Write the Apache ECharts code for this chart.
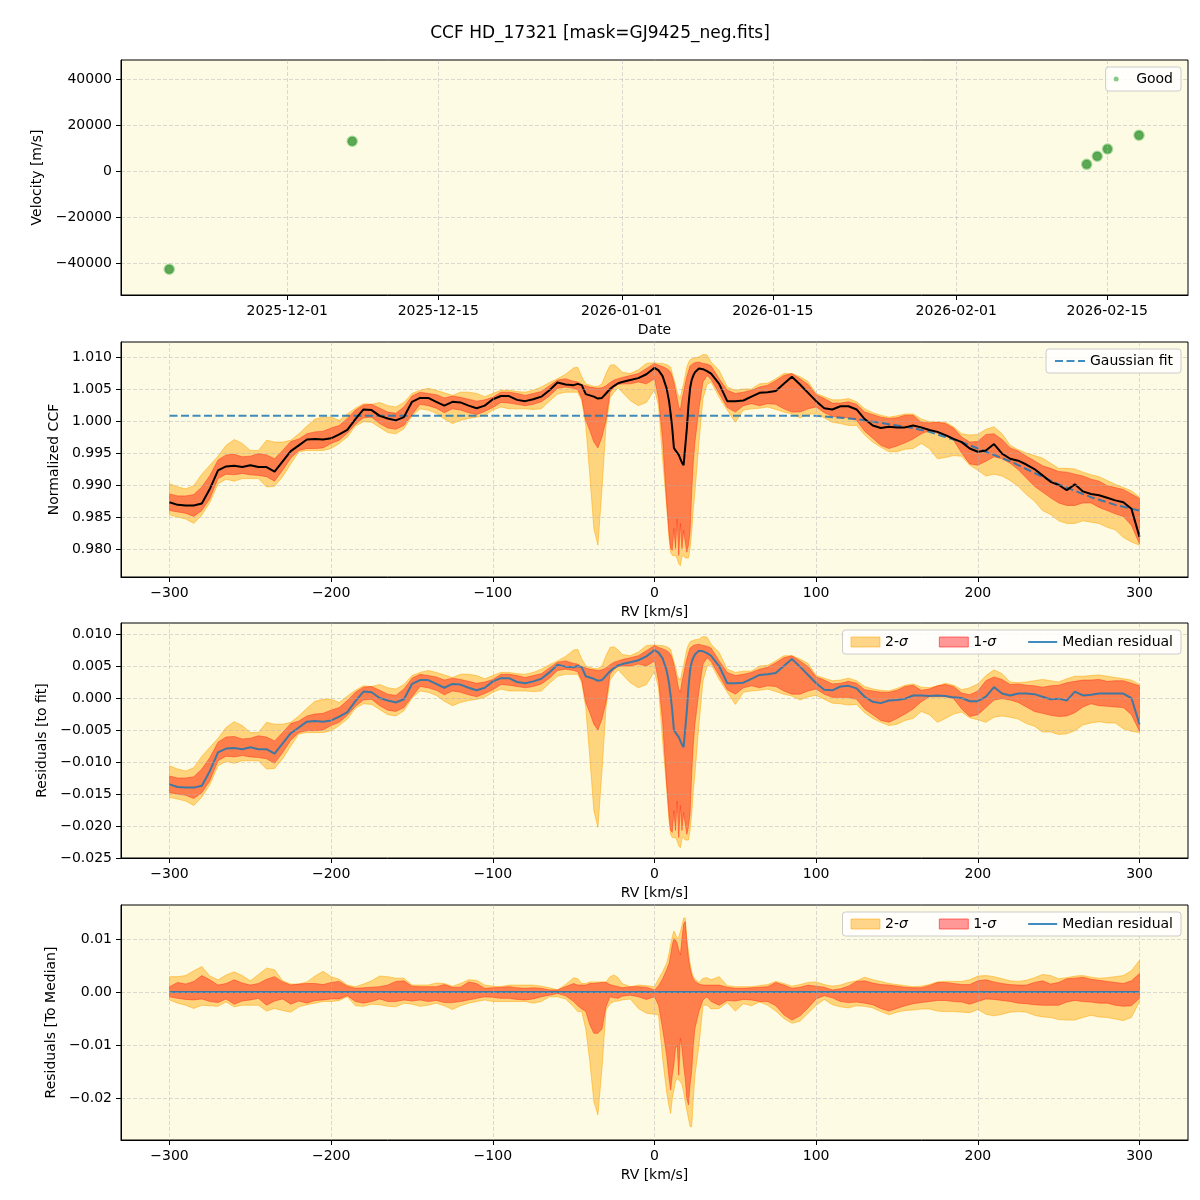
<!DOCTYPE html>
<html>
<head>
<meta charset="utf-8">
<title>CCF HD_17321</title>
<script src="https://cdn.jsdelivr.net/npm/echarts@6.0.0/dist/echarts.min.js"></script>
<style>
  html, body { margin: 0; padding: 0; background: #fff; }
  #ccfChart { width: 1200px; height: 1200px; }
</style>
</head>
<body>
<div id="ccfChart"></div>
<script>
// ---- velocity time series (top panel) ----
const obsTimes = ['2025-11-20T01:30', '2025-12-07T00:30', '2026-02-13T02:10',
  '2026-02-14T01:40', '2026-02-15T00:30', '2026-02-17T22:30'];
const obsVelocity = [-42400, 13000, 3000, 6500, 9650, 15600];

// ---- tick labels ----
const dateTicks = ['2025-12-01', '2025-12-15', '2026-01-01', '2026-01-15', '2026-02-01', '2026-02-15'];
const velocityTicks = [-40000, -20000, 0, 20000, 40000];
const rvTicks = [-300, -200, -100, 0, 100, 200, 300];
const ccfTicks = [0.980, 0.985, 0.990, 0.995, 1.000, 1.005, 1.010];
const residTicks = [-0.025, -0.020, -0.015, -0.010, -0.005, 0, 0.005, 0.010];
const medianTicks = [-0.02, -0.01, 0, 0.01];

// ---- CCF grid [km/s] ----
const rv = [
  -300, -295, -290, -285, -280, -275, -270, -265, -260, -255, -250, -245, -240, -235, -230, -225, -220, -215, -210, -205,
  -200, -195, -190, -185, -180, -175, -170, -165, -160, -155, -150, -145, -140, -135, -130, -125, -120, -115, -110,
  -105, -100, -95, -90, -85, -80, -75, -70, -65, -60, -55, -50,
  -47.5, -45, -42.5, -40, -37.5, -35, -32.5, -30, -27.5, -25, -22.5, -20,
  -15, -10, -5, 0, 2.5, 5, 7.5,
  9, 10, 11, 12, 13, 14, 15, 16, 17, 18, 19, 20, 21, 22, 23, 24, 25,
  27.5, 30, 32.5, 35,
  40, 45, 50, 55, 60, 65, 70, 75, 80, 85, 90, 95, 100,
  105, 110, 115, 120, 125, 130, 135, 140, 145, 150, 155, 160, 165, 170, 175, 180, 185, 190, 195, 200,
  205, 210, 215, 220, 225, 230, 235, 240, 245, 250, 255, 260, 265, 270, 275, 280, 285, 290, 295, 300
];

// normalized CCF: median and percentile bands
const ccfMedian = [
  0.9873, 0.9869, 0.9868, 0.9868, 0.9871, 0.9894, 0.9923, 0.9929, 0.9930, 0.9928, 0.9931, 0.9928, 0.9928, 0.9921, 0.9937, 0.9953, 0.9962, 0.9971, 0.9972, 0.9971,
  0.9973, 0.9979, 0.9986, 1.0003, 1.0018, 1.0017, 1.0008, 1.0004, 1.0001, 1.0006, 1.0030, 1.0036, 1.0036, 1.0030, 1.0024, 1.0030, 1.0029, 1.0024, 1.0020,
  1.0024, 1.0034, 1.0039, 1.0039, 1.0033, 1.0031, 1.0034, 1.0038, 1.0048, 1.0060, 1.0057, 1.0056,
  1.0058, 1.0056, 1.0042, 1.0040, 1.0038, 1.0035, 1.0036, 1.0043, 1.0050, 1.0055, 1.0059, 1.0061,
  1.0064, 1.0067, 1.0073, 1.0083, 1.0079, 1.0070, 1.0051,
  1.0031, 1.0011, 0.9988, 0.9958, 0.9954, 0.9952, 0.9947, 0.9941, 0.9935, 0.9931, 0.9932, 0.9988, 1.0024, 1.0051, 1.0064, 1.0071, 1.0076,
  1.0082, 1.0081, 1.0078, 1.0074,
  1.0058, 1.0031, 1.0031, 1.0032, 1.0038, 1.0044, 1.0045, 1.0047, 1.0058, 1.0069, 1.0057, 1.0044, 1.0031,
  1.0020, 1.0018, 1.0023, 1.0023, 1.0018, 1.0003, 0.9993, 0.9989, 0.9991, 0.9990, 0.9990, 0.9993, 0.9990, 0.9986, 0.9983, 0.9978, 0.9972, 0.9967, 0.9957, 0.9952,
  0.9954, 0.9964, 0.9949, 0.9941, 0.9938, 0.9932, 0.9925, 0.9915, 0.9905, 0.9900, 0.9892, 0.9901, 0.9890, 0.9886, 0.9884, 0.9880, 0.9876, 0.9873, 0.9863, 0.9819
];
const ccf1Hi = [
  0.9886, 0.9883, 0.9883, 0.9885, 0.9897, 0.9915, 0.9939, 0.9947, 0.9948, 0.9944, 0.9945, 0.9949, 0.9947, 0.9941, 0.9954, 0.9968, 0.9972, 0.9980, 0.9983, 0.9984,
  0.9989, 0.9993, 1.0004, 1.0017, 1.0025, 1.0026, 1.0020, 1.0014, 1.0012, 1.0022, 1.0039, 1.0045, 1.0043, 1.0041, 1.0036, 1.0039, 1.0037, 1.0034, 1.0031,
  1.0033, 1.0037, 1.0045, 1.0045, 1.0043, 1.0040, 1.0043, 1.0046, 1.0055, 1.0064, 1.0066, 1.0062,
  1.0061, 1.0057, 1.0055, 1.0053, 1.0052, 1.0051, 1.0052, 1.0055, 1.0060, 1.0064, 1.0066, 1.0068,
  1.0071, 1.0074, 1.0082, 1.0090, 1.0087, 1.0085, 1.0082,
  1.0079, 1.0076, 1.0069, 1.0060, 1.0048, 1.0035, 1.0022, 1.0017, 1.0034, 1.0045, 1.0058, 1.0069, 1.0078, 1.0086, 1.0088, 1.0090, 1.0091,
  1.0092, 1.0090, 1.0089, 1.0086,
  1.0066, 1.0048, 1.0043, 1.0045, 1.0048, 1.0053, 1.0056, 1.0063, 1.0071, 1.0074, 1.0066, 1.0057, 1.0041,
  1.0035, 1.0028, 1.0028, 1.0030, 1.0026, 1.0014, 1.0010, 1.0006, 1.0004, 1.0005, 1.0009, 1.0009, 0.9998, 0.9997, 0.9998, 0.9996, 0.9989, 0.9975, 0.9967, 0.9968,
  0.9979, 0.9980, 0.9971, 0.9958, 0.9953, 0.9945, 0.9938, 0.9930, 0.9926, 0.9921, 0.9920, 0.9917, 0.9914, 0.9909, 0.9906, 0.9899, 0.9896, 0.9893, 0.9886, 0.9879
];
const ccf1Lo = [
  0.9860, 0.9858, 0.9856, 0.9851, 0.9860, 0.9879, 0.9910, 0.9917, 0.9916, 0.9918, 0.9916, 0.9915, 0.9913, 0.9906, 0.9923, 0.9942, 0.9954, 0.9957, 0.9957, 0.9958,
  0.9965, 0.9970, 0.9981, 0.9995, 1.0005, 1.0006, 0.9996, 0.9989, 0.9987, 0.9993, 1.0010, 1.0026, 1.0024, 1.0020, 1.0013, 1.0019, 1.0017, 1.0013, 1.0010,
  1.0015, 1.0021, 1.0029, 1.0028, 1.0026, 1.0024, 1.0026, 1.0030, 1.0039, 1.0051, 1.0053, 1.0051,
  1.0049, 1.0035, 1.0001, 0.9985, 0.9967, 0.9958, 0.9975, 1.0001, 1.0045, 1.0053, 1.0057, 1.0058,
  1.0058, 1.0061, 1.0058, 1.0066, 1.0035, 0.9972, 0.9873,
  0.9824, 0.9801, 0.9798, 0.9832, 0.9801, 0.9847, 0.9790, 0.9840, 0.9801, 0.9829, 0.9811, 0.9795, 0.9806, 0.9827, 0.9889, 0.9936, 0.9967,
  1.0019, 1.0061, 1.0071, 1.0065,
  1.0043, 1.0021, 1.0014, 1.0024, 1.0027, 1.0024, 1.0027, 1.0026, 1.0019, 1.0014, 1.0014, 1.0019, 1.0022,
  1.0013, 1.0007, 1.0006, 1.0005, 1.0001, 0.9984, 0.9973, 0.9962, 0.9957, 0.9961, 0.9966, 0.9972, 0.9980, 0.9985, 0.9981, 0.9977, 0.9970, 0.9950, 0.9933, 0.9931,
  0.9937, 0.9944, 0.9941, 0.9934, 0.9924, 0.9911, 0.9898, 0.9889, 0.9880, 0.9872, 0.9868, 0.9868, 0.9872, 0.9872, 0.9865, 0.9860, 0.9855, 0.9851, 0.9837, 0.9808
];
const ccf2Hi = [
  0.9902, 0.9897, 0.9894, 0.9899, 0.9917, 0.9931, 0.9945, 0.9962, 0.9971, 0.9965, 0.9954, 0.9954, 0.9970, 0.9967, 0.9967, 0.9970, 0.9980, 0.9992, 1.0003, 1.0006,
  1.0006, 1.0001, 1.0011, 1.0020, 1.0027, 1.0026, 1.0029, 1.0024, 1.0022, 1.0029, 1.0043, 1.0048, 1.0051, 1.0048, 1.0044, 1.0040, 1.0045, 1.0045, 1.0043,
  1.0038, 1.0043, 1.0048, 1.0048, 1.0046, 1.0045, 1.0048, 1.0053, 1.0060, 1.0066, 1.0073, 1.0083,
  1.0084, 1.0069, 1.0058, 1.0056, 1.0054, 1.0054, 1.0058, 1.0074, 1.0087, 1.0088, 1.0083, 1.0076,
  1.0074, 1.0080, 1.0090, 1.0091, 1.0090, 1.0090, 1.0088,
  1.0086, 1.0084, 1.0074, 1.0065, 1.0056, 1.0045, 1.0038, 1.0036, 1.0048, 1.0058, 1.0071, 1.0084, 1.0091, 1.0096, 1.0097, 1.0098, 1.0099,
  1.0100, 1.0104, 1.0103, 1.0092,
  1.0079, 1.0053, 1.0048, 1.0050, 1.0050, 1.0058, 1.0059, 1.0066, 1.0074, 1.0074, 1.0069, 1.0062, 1.0043,
  1.0038, 1.0033, 1.0033, 1.0035, 1.0030, 1.0019, 1.0013, 1.0009, 1.0006, 1.0008, 1.0011, 1.0011, 1.0003, 0.9999, 0.9998, 0.9998, 0.9991, 0.9980, 0.9978, 0.9979,
  0.9987, 0.9991, 0.9980, 0.9962, 0.9955, 0.9950, 0.9946, 0.9942, 0.9934, 0.9926, 0.9926, 0.9925, 0.9920, 0.9916, 0.9913, 0.9907, 0.9901, 0.9896, 0.9891, 0.9881
];
const ccf2Lo = [
  0.9853, 0.9850, 0.9847, 0.9840, 0.9853, 0.9873, 0.9902, 0.9909, 0.9906, 0.9910, 0.9910, 0.9910, 0.9897, 0.9898, 0.9913, 0.9933, 0.9952, 0.9954, 0.9954, 0.9954,
  0.9957, 0.9965, 0.9975, 0.9992, 0.9999, 0.9998, 0.9990, 0.9982, 0.9980, 0.9988, 1.0008, 1.0019, 1.0017, 1.0012, 1.0003, 0.9996, 1.0001, 1.0004, 1.0006,
  1.0009, 1.0017, 1.0022, 1.0019, 1.0019, 1.0019, 1.0018, 1.0019, 1.0031, 1.0042, 1.0045, 1.0045,
  1.0045, 1.0032, 0.9993, 0.9915, 0.9832, 0.9806, 0.9894, 0.9993, 1.0036, 1.0045, 1.0052, 1.0045,
  1.0032, 1.0024, 1.0029, 1.0049, 1.0024, 0.9941, 0.9868,
  0.9816, 0.9795, 0.9790, 0.9790, 0.9790, 0.9785, 0.9777, 0.9774, 0.9788, 0.9790, 0.9786, 0.9786, 0.9786, 0.9801, 0.9827, 0.9863, 0.9889,
  0.9967, 1.0035, 1.0057, 1.0061,
  1.0037, 1.0017, 0.9998, 1.0017, 1.0019, 1.0020, 1.0022, 1.0018, 1.0014, 1.0011, 1.0005, 1.0010, 1.0012,
  1.0005, 0.9998, 0.9996, 0.9993, 0.9993, 0.9978, 0.9967, 0.9959, 0.9952, 0.9952, 0.9956, 0.9957, 0.9965, 0.9957, 0.9941, 0.9943, 0.9946, 0.9945, 0.9931, 0.9923,
  0.9914, 0.9917, 0.9914, 0.9907, 0.9898, 0.9885, 0.9875, 0.9860, 0.9854, 0.9844, 0.9840, 0.9840, 0.9844, 0.9842, 0.9840, 0.9834, 0.9830, 0.9818, 0.9811, 0.9806
];
const gaussFit = [
  1.0008, 1.0008, 1.0008, 1.0008, 1.0008, 1.0008, 1.0008, 1.0008, 1.0008, 1.0008, 1.0008, 1.0008, 1.0008, 1.0008, 1.0008, 1.0008, 1.0008, 1.0008, 1.0008, 1.0008,
  1.0008, 1.0008, 1.0008, 1.0008, 1.0008, 1.0008, 1.0008, 1.0008, 1.0008, 1.0008, 1.0008, 1.0008, 1.0008, 1.0008, 1.0008, 1.0008, 1.0008, 1.0008, 1.0008,
  1.0008, 1.0008, 1.0008, 1.0008, 1.0008, 1.0008, 1.0008, 1.0008, 1.0008, 1.0008, 1.0008, 1.0008,
  1.0008, 1.0008, 1.0008, 1.0008, 1.0008, 1.0008, 1.0008, 1.0008, 1.0008, 1.0008, 1.0008, 1.0008,
  1.0008, 1.0008, 1.0008, 1.0008, 1.0008, 1.0008, 1.0008,
  1.0008, 1.0008, 1.0008, 1.0008, 1.0008, 1.0008, 1.0008, 1.0008, 1.0008, 1.0008, 1.0008, 1.0008, 1.0008, 1.0008, 1.0008, 1.0008, 1.0008,
  1.0008, 1.0008, 1.0008, 1.0008,
  1.0008, 1.0008, 1.0008, 1.0008, 1.0008, 1.0008, 1.0008, 1.0008, 1.0008, 1.0008, 1.0008, 1.0008, 1.0008,
  1.0007, 1.0006, 1.0005, 1.0004, 1.0003, 1.0001, 0.9999, 0.9997, 0.9995, 0.9993, 0.9991, 0.9989, 0.9986, 0.9983, 0.9979, 0.9975, 0.9971, 0.9967, 0.9962, 0.9957,
  0.9952, 0.9947, 0.9942, 0.9937, 0.9931, 0.9925, 0.9919, 0.9913, 0.9907, 0.9901, 0.9896, 0.9891, 0.9886, 0.9881, 0.9877, 0.9873, 0.9869, 0.9866, 0.9863, 0.9860
];

// residuals to the median CCF: percentile bands
const med1Hi = [
  0.0010, 0.0018, 0.0015, 0.0020, 0.0031, 0.0023, 0.0013, 0.0016, 0.0023, 0.0017, 0.0013, 0.0016, 0.0024, 0.0029, 0.0019, 0.0013, 0.0015, 0.0016, 0.0016, 0.0014,
  0.0018, 0.0020, 0.0011, 0.0007, 0.0008, 0.0009, 0.0010, 0.0013, 0.0020, 0.0021, 0.0011, 0.0010, 0.0010, 0.0010, 0.0014, 0.0009, 0.0009, 0.0019, 0.0016,
  0.0007, 0.0008, 0.0009, 0.0010, 0.0008, 0.0007, 0.0008, 0.0007, 0.0004, 0.0004, 0.0010, 0.0016,
  0.0013, 0.0013, 0.0013, 0.0016, 0.0016, 0.0017, 0.0018, 0.0018, 0.0014, 0.0012, 0.0010, 0.0008,
  0.0010, 0.0010, 0.0009, 0.0004, 0.0012, 0.0025, 0.0042,
  0.0054, 0.0070, 0.0089, 0.0101, 0.0098, 0.0092, 0.0079, 0.0070, 0.0101, 0.0128, 0.0133, 0.0095, 0.0064, 0.0045, 0.0032, 0.0025, 0.0020,
  0.0015, 0.0013, 0.0013, 0.0013,
  0.0013, 0.0009, 0.0007, 0.0007, 0.0008, 0.0009, 0.0010, 0.0018, 0.0013, 0.0007, 0.0009, 0.0013, 0.0011,
  0.0009, 0.0004, 0.0006, 0.0011, 0.0020, 0.0021, 0.0017, 0.0014, 0.0013, 0.0011, 0.0009, 0.0008, 0.0008, 0.0012, 0.0018, 0.0018, 0.0016, 0.0014, 0.0014, 0.0021,
  0.0023, 0.0019, 0.0016, 0.0014, 0.0013, 0.0013, 0.0018, 0.0021, 0.0015, 0.0018, 0.0025, 0.0026, 0.0028, 0.0024, 0.0022, 0.0020, 0.0018, 0.0016, 0.0021, 0.0035
];
const med1Lo = [
  -0.0009, -0.0012, -0.0014, -0.0015, -0.0013, -0.0018, -0.0020, -0.0013, -0.0023, -0.0017, -0.0015, -0.0012, -0.0025, -0.0017, -0.0013, -0.0023, -0.0017, -0.0021, -0.0016, -0.0015,
  -0.0013, -0.0013, -0.0007, -0.0018, -0.0021, -0.0018, -0.0013, -0.0018, -0.0018, -0.0015, -0.0017, -0.0015, -0.0018, -0.0016, -0.0020, -0.0020, -0.0018, -0.0015, -0.0012,
  -0.0009, -0.0010, -0.0012, -0.0012, -0.0014, -0.0015, -0.0013, -0.0009, -0.0006, -0.0003, -0.0007, -0.0018,
  -0.0026, -0.0032, -0.0037, -0.0062, -0.0078, -0.0078, -0.0070, -0.0028, -0.0009, -0.0011, -0.0012, -0.0008,
  -0.0006, -0.0009, -0.0014, -0.0009, -0.0025, -0.0069, -0.0119,
  -0.0163, -0.0185, -0.0157, -0.0138, -0.0106, -0.0100, -0.0157, -0.0087, -0.0106, -0.0138, -0.0163, -0.0201, -0.0213, -0.0175, -0.0150, -0.0100, -0.0069,
  -0.0037, -0.0015, -0.0009, -0.0018,
  -0.0025, -0.0016, -0.0017, -0.0014, -0.0015, -0.0018, -0.0018, -0.0026, -0.0043, -0.0053, -0.0045, -0.0030, -0.0013,
  -0.0007, -0.0011, -0.0018, -0.0020, -0.0019, -0.0021, -0.0024, -0.0031, -0.0036, -0.0031, -0.0026, -0.0022, -0.0020, -0.0018, -0.0016, -0.0016, -0.0018, -0.0019, -0.0023, -0.0018,
  -0.0013, -0.0014, -0.0016, -0.0018, -0.0021, -0.0022, -0.0024, -0.0025, -0.0025, -0.0025, -0.0019, -0.0016, -0.0018, -0.0019, -0.0021, -0.0021, -0.0025, -0.0027, -0.0026, -0.0012
];
const med2Hi = [
  0.0029, 0.0029, 0.0031, 0.0040, 0.0048, 0.0030, 0.0023, 0.0032, 0.0038, 0.0031, 0.0021, 0.0033, 0.0045, 0.0042, 0.0021, 0.0015, 0.0015, 0.0019, 0.0030, 0.0039,
  0.0029, 0.0024, 0.0013, 0.0010, 0.0015, 0.0021, 0.0030, 0.0029, 0.0026, 0.0026, 0.0013, 0.0013, 0.0013, 0.0017, 0.0016, 0.0011, 0.0016, 0.0023, 0.0022,
  0.0013, 0.0011, 0.0010, 0.0013, 0.0013, 0.0013, 0.0013, 0.0011, 0.0008, 0.0004, 0.0014, 0.0027,
  0.0025, 0.0016, 0.0016, 0.0019, 0.0019, 0.0019, 0.0019, 0.0019, 0.0029, 0.0032, 0.0027, 0.0016,
  0.0010, 0.0013, 0.0012, 0.0010, 0.0025, 0.0038, 0.0054,
  0.0073, 0.0090, 0.0104, 0.0115, 0.0109, 0.0101, 0.0104, 0.0114, 0.0126, 0.0139, 0.0140, 0.0101, 0.0076, 0.0054, 0.0038, 0.0029, 0.0025,
  0.0018, 0.0026, 0.0027, 0.0023,
  0.0029, 0.0012, 0.0010, 0.0010, 0.0010, 0.0012, 0.0014, 0.0020, 0.0016, 0.0011, 0.0014, 0.0018, 0.0019,
  0.0014, 0.0011, 0.0013, 0.0018, 0.0021, 0.0028, 0.0023, 0.0020, 0.0016, 0.0014, 0.0012, 0.0010, 0.0011, 0.0014, 0.0019, 0.0020, 0.0020, 0.0020, 0.0023, 0.0030,
  0.0031, 0.0029, 0.0025, 0.0021, 0.0020, 0.0022, 0.0027, 0.0033, 0.0031, 0.0025, 0.0027, 0.0030, 0.0031, 0.0028, 0.0026, 0.0027, 0.0029, 0.0031, 0.0040, 0.0060
];
const med2Lo = [
  -0.0015, -0.0021, -0.0025, -0.0031, -0.0025, -0.0026, -0.0027, -0.0019, -0.0028, -0.0025, -0.0025, -0.0025, -0.0036, -0.0031, -0.0035, -0.0038, -0.0028, -0.0024, -0.0021, -0.0018,
  -0.0018, -0.0016, -0.0009, -0.0026, -0.0027, -0.0023, -0.0024, -0.0027, -0.0028, -0.0021, -0.0023, -0.0027, -0.0025, -0.0021, -0.0026, -0.0033, -0.0026, -0.0021, -0.0018,
  -0.0015, -0.0018, -0.0018, -0.0018, -0.0018, -0.0018, -0.0021, -0.0018, -0.0009, -0.0009, -0.0013, -0.0028,
  -0.0037, -0.0037, -0.0070, -0.0131, -0.0207, -0.0232, -0.0144, -0.0034, -0.0022, -0.0018, -0.0017, -0.0015,
  -0.0013, -0.0031, -0.0040, -0.0042, -0.0043, -0.0125, -0.0188,
  -0.0216, -0.0229, -0.0201, -0.0185, -0.0169, -0.0163, -0.0166, -0.0169, -0.0175, -0.0188, -0.0207, -0.0223, -0.0238, -0.0254, -0.0254, -0.0201, -0.0157,
  -0.0100, -0.0025, -0.0025, -0.0032,
  -0.0031, -0.0020, -0.0036, -0.0022, -0.0026, -0.0019, -0.0025, -0.0036, -0.0050, -0.0059, -0.0055, -0.0040, -0.0025,
  -0.0014, -0.0024, -0.0028, -0.0030, -0.0026, -0.0027, -0.0030, -0.0037, -0.0043, -0.0038, -0.0035, -0.0034, -0.0032, -0.0032, -0.0036, -0.0037, -0.0037, -0.0038, -0.0039, -0.0033,
  -0.0042, -0.0045, -0.0042, -0.0038, -0.0037, -0.0038, -0.0044, -0.0047, -0.0048, -0.0052, -0.0053, -0.0053, -0.0048, -0.0044, -0.0047, -0.0048, -0.0051, -0.0054, -0.0048, -0.0018
];

[ccfMedian, ccf1Hi, ccf1Lo, ccf2Hi, ccf2Lo, gaussFit, med1Hi, med1Lo, med2Hi, med2Lo].forEach(function (a, k) {
  if (a.length !== rv.length) throw new Error('array ' + k + ' has ' + a.length + ' values, rv has ' + rv.length);
});

// residuals to the fit = CCF - Gaussian fit
const minusFit = arr => arr.map((v, i) => v - gaussFit[i]);
const residMedian = minusFit(ccfMedian);
const resid1Hi = minusFit(ccf1Hi), resid1Lo = minusFit(ccf1Lo);
const resid2Hi = minusFit(ccf2Hi), resid2Lo = minusFit(ccf2Lo);
// median of the residuals to the median is the median itself minus itself
const medianLine = ccfMedian.map((v, i) => v - ccfMedian[i]);

// ---- styling ----
const FONT = 'DejaVu Sans';
const BG = '#fdfbe3';
const FILL_2S = 'rgba(255,165,0,0.45)';
const EDGE_2S = 'rgba(255,165,0,0.5)';
const FILL_1S = 'rgba(255,0,0,0.4)';
const EDGE_1S = 'rgba(255,40,20,0.45)';
const BLUE = 'rgba(31,119,180,0.85)';
const panelTops = [60, 342, 623, 905];

const minus = s => s.replace('-', '\u2212');
const fixed = d => v => minus(v.toFixed(d));
const toMs = s => Date.parse(s + 'T00:00:00Z');
const dayLabel = v => new Date(v).toISOString().slice(0, 10);

function makeAxis(idx, min, max, ticks, formatter, name, nameGap) {
  return {
    type: 'value', gridIndex: idx, min: min, max: max, z: 5,
    name: name, nameLocation: 'middle', nameGap: nameGap,
    nameTextStyle: { color: '#000', fontSize: 14, fontFamily: FONT },
    axisLine: { show: true, onZero: false, lineStyle: { color: '#000', width: 1 } },
    axisTick: { show: true, length: 5, customValues: ticks, lineStyle: { color: '#000', width: 1 } },
    axisLabel: { customValues: ticks, formatter: formatter, color: '#000', fontSize: 14, fontFamily: FONT, margin: 9 },
    splitLine: { show: true, lineStyle: { color: 'rgba(175,175,185,0.45)', type: [4, 2], width: 1 } }
  };
}

// fill between lo and hi: one polygon placed through the grid's coordinate system
function band(name, lo, hi, axis, z, fill, edge) {
  return {
    type: 'custom', name: name, xAxisIndex: axis, yAxisIndex: axis, z: z, silent: true, clip: true,
    itemStyle: { color: fill },
    encode: { x: 0, y: [1, 2] },
    data: rv.map((x, i) => [x, lo[i], hi[i]]),
    renderItem: function (params, api) {
      if (params.dataIndex !== 0) return null;
      const upper = rv.map((x, i) => api.coord([x, hi[i]]));
      const lower = rv.map((x, i) => api.coord([x, lo[i]])).reverse();
      return {
        type: 'polygon',
        shape: { points: upper.concat(lower) },
        style: { fill: fill, stroke: edge, lineWidth: 1 }
      };
    }
  };
}

function line(name, values, axis, z, style) {
  return {
    type: 'line', name: name, xAxisIndex: axis, yAxisIndex: axis,
    symbol: 'none', silent: true, z: z, lineStyle: style,
    itemStyle: { color: style.color },
    data: rv.map((x, i) => [x, values[i]])
  };
}

const legendBase = {
  orient: 'horizontal', right: 19, z: 20,
  backgroundColor: 'rgba(255,255,255,0.8)', borderColor: '#cccccc', borderWidth: 1, borderRadius: 3,
  padding: [5, 8], itemGap: 31, selectedMode: false,
  formatter: n => n.replace('σ', '{s|σ}'),
  textStyle: {
    color: '#000', fontSize: 14, fontFamily: FONT,
    rich: { s: { fontStyle: 'italic', fontSize: 14, fontFamily: FONT, color: '#000' } }
  }
};
const bandLegendData = [
  { name: '2-σ', icon: 'rect', itemStyle: { color: FILL_2S, borderColor: EDGE_2S, borderWidth: 1 } },
  { name: '1-σ', icon: 'rect', itemStyle: { color: FILL_1S, borderColor: 'rgba(255,0,0,0.5)', borderWidth: 1 } },
  { name: 'Median residual', itemStyle: { opacity: 0 } }
];

const chart = echarts.init(document.getElementById('ccfChart'), null, { renderer: 'canvas' });

const option = {
  animation: false,
  backgroundColor: '#ffffff',
  textStyle: { fontFamily: FONT },
  title: {
    text: 'CCF HD_17321 [mask=GJ9425_neg.fits]', left: 'center', top: 20,
    textStyle: { color: '#000', fontSize: 17, fontWeight: 'normal', fontFamily: FONT }
  },
  grid: panelTops.map(top => ({
    left: 121, width: 1067, top: top, height: 235, show: true,
    backgroundColor: BG, borderColor: '#000', borderWidth: 1
  })),
  xAxis: [
    makeAxis(0, Date.parse('2025-11-15T14:10:00Z'), Date.parse('2026-02-22T11:30:00Z'),
      dateTicks.map(toMs), dayLabel, 'Date', 28),
    makeAxis(1, -330, 330, rvTicks, fixed(0), 'RV [km/s]', 28),
    makeAxis(2, -330, 330, rvTicks, fixed(0), 'RV [km/s]', 28),
    makeAxis(3, -330, 330, rvTicks, fixed(0), 'RV [km/s]', 28)
  ],
  yAxis: [
    makeAxis(0, -53560, 48190, velocityTicks, fixed(0), 'Velocity [m/s]', 69),
    makeAxis(1, 0.97563, 1.01234, ccfTicks, fixed(3), 'Normalized CCF', 53),
    makeAxis(2, -0.025, 0.01172, residTicks, fixed(3), 'Residuals [to fit]', 64),
    makeAxis(3, -0.027925, 0.016415, medianTicks, fixed(2), 'Residuals [To Median]', 55)
  ],
  legend: [
    Object.assign({}, legendBase, {
      top: 67, itemWidth: 30, itemHeight: 5,
      data: [{ name: 'Good', icon: 'circle', itemStyle: { color: 'rgba(44,160,44,0.7)', borderWidth: 0 } }]
    }),
    Object.assign({}, legendBase, {
      top: 349, itemWidth: 30, itemHeight: 14,
      data: [{ name: 'Gaussian fit', itemStyle: { opacity: 0 } }]
    }),
    Object.assign({}, legendBase, { top: 630, itemWidth: 29, itemHeight: 10, data: bandLegendData }),
    Object.assign({}, legendBase, { top: 912, itemWidth: 29, itemHeight: 10, data: bandLegendData })
  ],
  series: [
    {
      type: 'scatter', name: 'Good', xAxisIndex: 0, yAxisIndex: 0, symbolSize: 9, z: 3,
      itemStyle: { color: 'rgba(30,135,30,0.9)', borderColor: 'rgba(44,160,44,0.5)', borderWidth: 2.5 },
      data: obsTimes.map((t, i) => [Date.parse(t + ':00Z'), obsVelocity[i]])
    },
    band('2-σ ccf', ccf2Lo, ccf2Hi, 1, 1, FILL_2S, EDGE_2S),
    band('1-σ ccf', ccf1Lo, ccf1Hi, 1, 2, FILL_1S, EDGE_1S),
    line('Gaussian fit', gaussFit, 1, 3, { color: BLUE, width: 2, type: [8, 3.5] }),
    line('CCF median', ccfMedian, 1, 4, { color: '#000', width: 2 }),

    band('2-σ', resid2Lo, resid2Hi, 2, 1, FILL_2S, EDGE_2S),
    band('1-σ', resid1Lo, resid1Hi, 2, 2, FILL_1S, EDGE_1S),
    line('Median residual', residMedian, 2, 4, { color: BLUE, width: 2 }),

    band('2-σ', med2Lo, med2Hi, 3, 1, FILL_2S, EDGE_2S),
    band('1-σ', med1Lo, med1Hi, 3, 2, FILL_1S, EDGE_1S),
    line('Median residual', medianLine, 3, 4, { color: BLUE, width: 2 })
  ]
};

chart.setOption(option);
</script>
</body>
</html>
